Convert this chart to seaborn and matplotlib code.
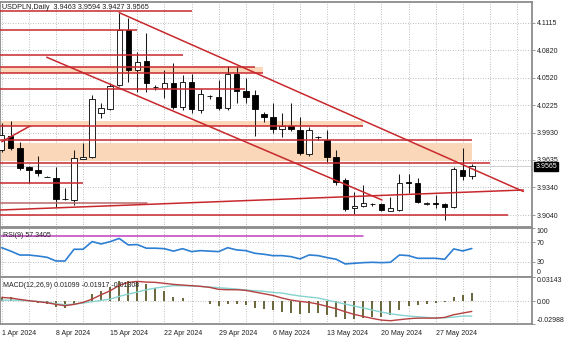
import numpy as np
import pandas as pd
import matplotlib
matplotlib.use("Agg")
import matplotlib.pyplot as plt
import matplotlib.transforms as mtransforms
import seaborn as sns

# ---------------- data ----------------
symbol = "USDPLN"
timeframe = "Daily"

opens = [3.9741, 3.9892, 3.9766, 3.9561, 3.9524, 3.9455, 3.9442, 3.9212, 3.9202, 3.9647,
         3.9669, 4.0137, 4.0184, 4.0443, 4.1036, 4.0604, 4.0702, 4.0420, 4.0414, 4.0461,
         4.0209, 4.0472, 4.0173, 4.0326, 4.0310, 4.0191, 4.0561, 4.0381, 4.0335, 4.0130,
         4.0101, 3.9965, 4.0000, 3.9957, 3.9698, 3.9887, 3.9849, 3.9669, 3.9418, 3.9112,
         3.9137, 3.9157, 3.9155, 3.9087, 3.9094, 3.9392, 3.9385, 3.9155, 3.9165, 3.9159,
         3.9123, 3.9525, 3.9463]
highs = [4.0036, 4.0057, 3.9831, 3.9565, 3.9680, 3.9462, 3.9555, 3.9330, 3.9742, 3.9820,
         4.0338, 4.0245, 4.0461, 4.1223, 4.1162, 4.0799, 4.1004, 4.0445, 4.0605, 4.0677,
         4.0551, 4.0561, 4.0400, 4.0340, 4.0497, 4.0650, 4.0640, 4.0515, 4.0388, 4.0155,
         4.0252, 4.0137, 4.0252, 4.0101, 3.9985, 3.9895, 3.9957, 3.9741, 3.9439, 3.9290,
         3.9363, 3.9170, 3.9165, 3.9231, 3.9482, 3.9482, 3.9436, 3.9180, 3.9256, 3.9165,
         3.9560, 3.9760, 3.9594]
lows = [3.9720, 3.9741, 3.9526, 3.9382, 3.9461, 3.9445, 3.9123, 3.9198, 3.9148, 3.9640,
        3.9660, 4.0083, 4.0173, 4.0432, 4.0478, 4.0371, 4.0370, 4.0385, 4.0299, 4.0180,
        4.0173, 4.0137, 4.0137, 4.0290, 4.0173, 4.0170, 4.0245, 4.0245, 3.9892, 4.0047,
        3.9928, 3.9885, 3.9950, 3.9687, 3.9676, 3.9846, 3.9608, 3.9364, 3.9086, 3.9050,
        3.9130, 3.9140, 3.9085, 3.9080, 3.9083, 3.9274, 3.9166, 3.9150, 3.9115, 3.8986,
        3.9116, 3.9418, 3.9427]
closes = [3.9903, 3.9762, 3.9550, 3.9525, 3.9490, 3.9452, 3.9209, 3.9208, 3.9652, 3.9669,
          4.0292, 4.0191, 4.0432, 4.1036, 4.0604, 4.0694, 4.0461, 4.0417, 4.0461, 4.0209,
          4.0472, 4.0181, 4.0346, 4.0322, 4.0191, 4.0561, 4.0381, 4.0317, 4.0181, 4.0101,
          3.9965, 4.0000, 3.9965, 3.9706, 3.9957, 3.9883, 3.9669, 3.9399, 3.9102, 3.9137,
          3.9173, 3.9155, 3.9094, 3.9113, 3.9388, 3.9388, 3.9183, 3.9173, 3.9160, 3.9123,
          3.9533, 3.9461, 3.9565]

rsi_period = 9
rsi = [59.0, 52.0, 44.0, 44.0, 42.0, 39.4, 31.8, 31.8, 55.8, 55.8,
       71.5, 66.7, 71.5, 78.0, 64.7, 65.4, 58.0, 58.0, 57.0, 52.0,
       57.0, 51.0, 53.0, 52.0, 51.0, 59.0, 54.4, 53.0, 47.6, 45.6,
       42.7, 42.8, 40.7, 36.0, 44.1, 42.8, 38.7, 35.3, 25.7, 27.1,
       28.4, 29.1, 28.4, 29.1, 44.1, 42.8, 37.3, 37.3, 37.3, 35.3,
       56.5, 52.4, 57.3405]

macd_params = (12, 26, 9)
macd_hist = [0.0040, 0.0060, 0.0030, 0.0010, -0.0020, -0.0040, -0.0070, -0.0090, -0.0050, 0.0010,
             0.0096, 0.0140, 0.0190, 0.0260, 0.0260, 0.0250, 0.0226, 0.0180, 0.0140, 0.0060,
             0.0044, 0.0010, 0.0000, -0.0040, -0.0060, -0.0040, -0.0040, -0.0050, -0.0080, -0.0100,
             -0.0110, -0.0144, -0.0157, -0.0165, -0.0157, -0.0157, -0.0174, -0.0200, -0.0230, -0.0230,
             -0.0220, -0.0210, -0.0200, -0.0174, -0.0113, -0.0057, -0.0044, -0.0035, -0.0022, -0.0004,
             0.0052, 0.0083, 0.01099]
macd_slow = [0.0017, 0.0017, 0.0013, 0.0009, 0.0000, -0.0013, -0.0030, -0.0044, -0.0035, -0.0022,
             -0.0004, 0.0013, 0.0030, 0.0065, 0.0096, 0.0122, 0.0152, 0.0174, 0.0191, 0.0205,
             0.0205, 0.0200, 0.0196, 0.0187, 0.0178, 0.0170, 0.0161, 0.0148, 0.0139, 0.0131,
             0.0117, 0.0109, 0.0087, 0.0070, 0.0057, 0.0044, 0.0017, -0.0009, -0.0035, -0.0061,
             -0.0087, -0.0113, -0.0139, -0.0161, -0.0178, -0.0191, -0.0200, -0.0209, -0.0218, -0.0213,
             -0.0205, -0.0191, -0.01917]
macd_fast = [0.0052, 0.0044, 0.0026, 0.0009, -0.0004, -0.0017, -0.0039, -0.0057, -0.0039, -0.0013,
             0.0030, 0.0087, 0.0139, 0.0209, 0.0248, 0.0261, 0.0252, 0.0248, 0.0235, 0.0222,
             0.0213, 0.0205, 0.0196, 0.0183, 0.0157, 0.0152, 0.0152, 0.0144, 0.0122, 0.0100,
             0.0078, 0.0044, 0.0017, 0.0000, -0.0013, -0.0035, -0.0065, -0.0096, -0.0135, -0.0170,
             -0.0196, -0.0222, -0.0244, -0.0252, -0.0239, -0.0226, -0.0218, -0.0218, -0.0218, -0.0209,
             -0.0174, -0.0152, -0.01308]

price_ticks = [4.1115, 4.0820, 4.0520, 4.0225, 3.9930, 3.9635, 3.9340, 3.9040]
price_range = (3.8914, 4.1338)
macd_range = (-0.02988, 0.03143)

# horizontal levels: price, last bar reached
levels = [(4.1241, 21.0), (4.1036, 15.0), (4.0770, 20.1), (4.0640, 28.0), (4.0575, 28.9),
          (4.0396, 26.9), (4.0001, 40.0), (3.9849, 52.0), (3.9604, 54.0), (3.9382, 9.0),
          (3.9040, 56.0)]
faint_levels = [(3.9166, 16.1)]
# shaded zones: lower price, upper price, last bar reached
zones = [(4.0575, 4.0640, 28.9), (4.0001, 4.0054, 40.0), (3.9626, 3.9813, 52.0)]
# trend lines: bar0, price0, bar1, price1
trendlines = [(13.0, 4.1223, 57.7, 3.9294),
              (4.98, 4.0742, 42.07, 3.9202),
              (-0.19, 3.9094, 57.7, 3.9310),
              (0.0, 3.9831, 3.13, 4.0000)]
rsi_level = (83.2, 40.0)

# trading days (no Saturdays)
dates = pd.date_range("2024-04-01", "2024-05-31", freq="D")
dates = dates[dates.dayofweek != 5]

# ---------------- style ----------------
sns.set_theme(style="white")
plt.rcParams["font.family"] = ["Liberation Sans", "DejaVu Sans"]
plt.rcParams["font.size"] = 5

RED = "#C8282C"
ZONE = "#FAD7B8"
GRID = "#A8A8A8"
FRAME = "#8C8C8C"

n = len(closes)
x = np.arange(n)
o = np.array(opens); h = np.array(highs); l = np.array(lows); c = np.array(closes)

fig = plt.figure(figsize=(5.64, 3.38), dpi=100)
fig.patch.set_facecolor("white")
W = 532 / 564
ax_p = fig.add_axes([0, 1 - 226.7 / 338, W, (226.7 - 2) / 338])
ax_r = fig.add_axes([0, 1 - 276.5 / 338, W, (276.5 - 227.7) / 338])
ax_m = fig.add_axes([0, 1 - 324.3 / 338, W, (324.3 - 277.3) / 338])

xlim = (-0.19, 58.66)
grid_x = np.arange(0, 59, 3)

for ax in (ax_p, ax_r, ax_m):
    ax.set_xlim(*xlim)
    ax.set_facecolor("white")
    for s in ax.spines.values():
        s.set_color(FRAME)
        s.set_linewidth(1.3)
    for gx in grid_x:
        ax.axvline(gx, color=GRID, lw=0.6, ls=(0, (1, 2)), zorder=0)
    ax.yaxis.tick_right()
    ax.tick_params(axis="y", which="both", length=2, width=0.6, color=FRAME,
                   pad=1.5, labelsize=5, labelcolor="#202020")
    ax.tick_params(axis="x", which="both", length=0, labelbottom=False)

# ---------------- price pane ----------------
ax_p.set_ylim(*price_range)
ax_p.set_yticks(price_ticks)
ax_p.set_yticklabels([f"{t:.4f}" for t in price_ticks])
for t in price_ticks:
    ax_p.axhline(t, color=GRID, lw=0.6, ls=(0, (1, 2)), zorder=0)

for lo, hi, xe in zones:
    ax_p.fill_between([xlim[0], xe], lo, hi, color=ZONE, lw=0, zorder=1)

# candles
ax_p.vlines(x, l, h, color="#1a1a1a", lw=0.75, zorder=3)
body_lo = np.minimum(o, c)
body_h = np.maximum(np.abs(c - o), 0.00002)
ax_p.bar(x, body_h, bottom=body_lo, width=0.6,
         color=np.where(c >= o, "white", "black"), edgecolor="black",
         linewidth=0.6, zorder=4)

for price, xe in levels:
    ax_p.plot([xlim[0], xe], [price, price], color=RED, lw=1.1, zorder=5,
              solid_capstyle="butt")
for price, xe in faint_levels:
    ax_p.plot([xlim[0], xe], [price, price], color="#B86A6A", lw=1.1, zorder=5)
for x0, y0, x1, y1 in trendlines:
    ax_p.plot([x0, x1], [y0, y1], color=RED, lw=1.1, zorder=5)

# bid line and price box
ax_p.axhline(c[-1], color="#C8C8C8", lw=0.6, zorder=2)
blend = mtransforms.blended_transform_factory(ax_p.transAxes, ax_p.transData)
ax_p.text(1.006, c[-1], f"{c[-1]:.4f}", transform=blend, ha="left", va="center",
          color="white", fontsize=5, zorder=10, clip_on=False,
          bbox=dict(facecolor="black", edgecolor="black", pad=0.9))

header = f"{symbol},{timeframe}  {o[-1]:.4f} {h[-1]:.4f} {l[-1]:.4f} {c[-1]:.4f}"
ax_p.text(0.004, 0.992, header, transform=ax_p.transAxes, ha="left", va="top",
          fontsize=5.2, color="#202020", zorder=11)

# ---------------- RSI pane ----------------
ax_r.set_ylim(0, 100)
ax_r.set_yticks([100, 70, 30, 0])
ax_r.set_yticklabels(["100", "70", "30", "0"])
labs = ax_r.get_yticklabels()
labs[0].set_verticalalignment("top")
labs[-1].set_verticalalignment("bottom")
for lv in (70, 30):
    ax_r.axhline(lv, color=GRID, lw=0.6, ls=(0, (1, 2)), zorder=0)
ax_r.plot([xlim[0], rsi_level[1]], [rsi_level[0]] * 2, color="#C040C0", lw=1.1, zorder=2)
rsi_df = pd.DataFrame({"bar": x, "rsi": rsi})
sns.lineplot(data=rsi_df, x="bar", y="rsi", ax=ax_r, color="#2D7FD3", lw=1.2, zorder=3)
ax_r.set_xlabel(""); ax_r.set_ylabel("")
ax_r.set_xlim(*xlim)
ax_r.text(0.005, 0.92, f"RSI({rsi_period}) {rsi[-1]:.4f}", transform=ax_r.transAxes,
          ha="left", va="top", fontsize=5, color="#202020", zorder=5)

# ---------------- MACD pane ----------------
ax_m.set_ylim(*macd_range)
ax_m.set_yticks([macd_range[1], 0.0, macd_range[0]])
ax_m.set_yticklabels([f"{macd_range[1]:.5f}", "0.00", f"{macd_range[0]:.5f}"])
labs = ax_m.get_yticklabels()
labs[0].set_verticalalignment("top")
labs[-1].set_verticalalignment("bottom")
ax_m.axhline(0, color=GRID, lw=0.6, ls=(0, (1, 2)), zorder=0)
ax_m.vlines(x, 0, macd_hist, color="#5E5A2C", lw=1.3, zorder=2)
macd_df = pd.DataFrame({"bar": x, "fast": macd_fast, "slow": macd_slow})
sns.lineplot(data=macd_df, x="bar", y="slow", ax=ax_m, color="#86D3D0", lw=1.0, zorder=3)
sns.lineplot(data=macd_df, x="bar", y="fast", ax=ax_m, color="#B54040", lw=1.0, zorder=4)
ax_m.set_xlabel(""); ax_m.set_ylabel("")
ax_m.set_xlim(*xlim)
ax_m.text(0.006, 0.9, f"MACD({macd_params[0]},{macd_params[1]},{macd_params[2]}) "
          f"{macd_hist[-1]:.5f} {macd_slow[-1]:.5f} {macd_fast[-1]:.5f}",
          transform=ax_m.transAxes, ha="left", va="top", fontsize=5, color="#202020", zorder=6)

# date axis on the bottom pane
mondays = [i for i, d in enumerate(dates) if d.dayofweek == 0]
ax_m.set_xticks(mondays)
ax_m.set_xticklabels([f"{dates[i].day} {dates[i]:%b %Y}" for i in mondays])
ax_m.tick_params(axis="x", length=2.5, width=0.6, color=FRAME, labelbottom=True,
                 pad=1.5, labelsize=5, labelcolor="#202020")
for lab in ax_m.get_xticklabels():
    lab.set_horizontalalignment("left")

fig.savefig("out.png", dpi=100, facecolor="white")
